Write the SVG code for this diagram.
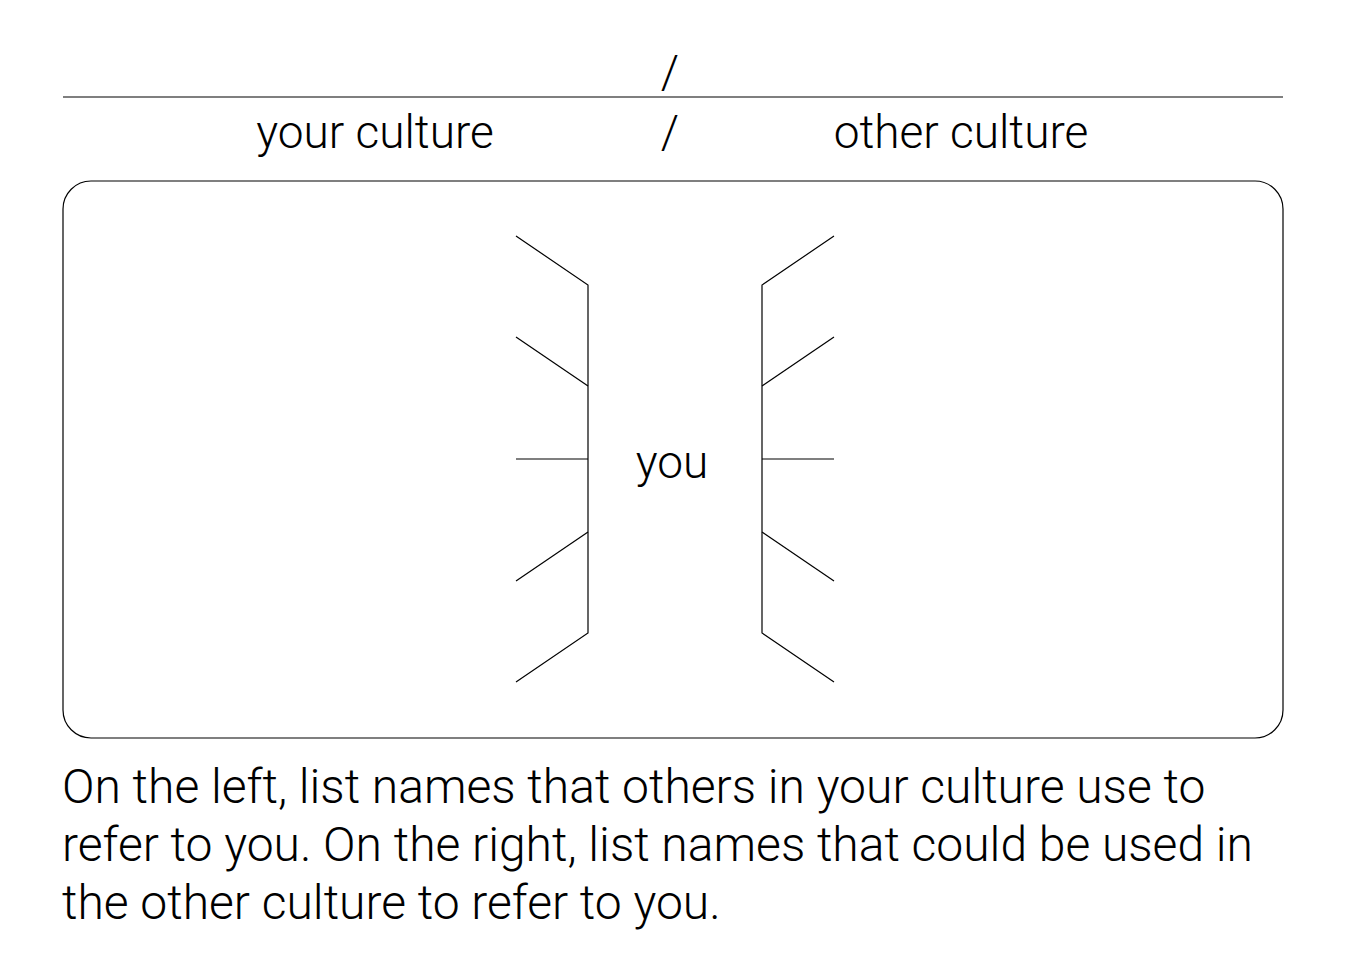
<svg xmlns="http://www.w3.org/2000/svg" width="1351" height="975" viewBox="0 0 1351 975">
<style>
.t{font-family:Roboto,"Liberation Sans",sans-serif;font-weight:300;font-size:46px;fill:#000}
.c{font-size:48px}
.ln{stroke:#000;stroke-width:1.2;fill:none}
</style>
<rect width="1351" height="975" fill="#fff"/>
<g id="header">
<line class="ln" x1="63" y1="97" x2="1283" y2="97"/>
<text class="t" x="670" y="88" text-anchor="middle">/</text>
<text class="t" x="375" y="148" text-anchor="middle">your culture</text>
<text class="t" x="670" y="148" text-anchor="middle">/</text>
<text class="t" x="961" y="148" text-anchor="middle">other culture</text>
</g>
<g id="frame">
<rect class="ln" x="63" y="181" width="1220" height="557" rx="28" ry="28"/>
</g>
<g id="you">
<text class="t" x="672" y="478" text-anchor="middle">you</text>
</g>
<g id="connectors">
<polyline class="ln" points="516,236 588,285 588,633 516,682"/>
<line class="ln" x1="516" y1="337" x2="588" y2="386"/>
<line class="ln" x1="516" y1="459" x2="588" y2="459"/>
<line class="ln" x1="516" y1="581" x2="588" y2="532"/>
<polyline class="ln" points="834,236 762,285 762,633 834,682"/>
<line class="ln" x1="834" y1="337" x2="762" y2="386"/>
<line class="ln" x1="834" y1="459" x2="762" y2="459"/>
<line class="ln" x1="834" y1="581" x2="762" y2="532"/>
</g>
<g id="caption">
<text class="t c" x="62" y="803">On the left, list names that others in your culture use to</text>
<text class="t c" x="62" y="861">refer to you. On the right, list names that could be used in</text>
<text class="t c" x="62" y="919">the other culture to refer to you.</text>
</g>
</svg>
